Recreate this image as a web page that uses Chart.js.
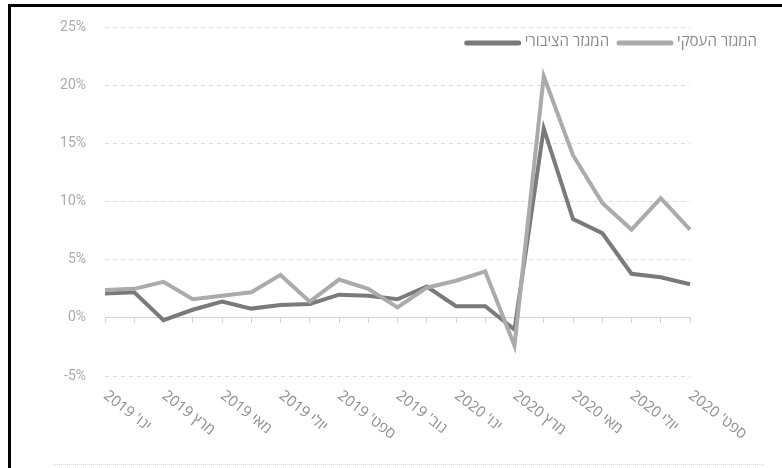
<!DOCTYPE html>
<html>
<head>
<meta charset="utf-8">
<script src="https://cdn.jsdelivr.net/npm/chart.js@4"></script>
<style>
  html, body { margin: 0; padding: 0; background: #fff; }
  #wrap { position: relative; width: 782px; height: 468px; overflow: hidden; }
  canvas { position: absolute; left: 0; top: 0; }
  #frame { position: absolute; left: 8px; top: 4px; width: 790px; height: 480px;
           border-top: 3px solid #000; border-left: 3px solid #000; }
  #rule { position: absolute; left: 53px; top: 464px; width: 711px; border-top: 1px dotted #d4d4d4; }
</style>
</head>
<body>
<div id="wrap">
  <canvas id="c" width="782" height="468"></canvas>
  <div id="frame"></div>
  <div id="rule"></div>
</div>
<script>
// Monthly categories, Jan 2019 – Sep 2020
const categories = [
  "ינו' 2019", "פבר' 2019", "מרץ 2019", "אפר' 2019", "מאי 2019", "יוני 2019",
  "יולי 2019", "אוג' 2019", "ספט' 2019", "אוק' 2019", "נוב' 2019", "דצמ' 2019",
  "ינו' 2020", "פבר' 2020", "מרץ 2020", "אפר' 2020", "מאי 2020", "יוני 2020",
  "יולי 2020", "אוג' 2020", "ספט' 2020"
];

// Series values (%)
const businessSector = [2.4, 2.5, 3.1, 1.6, 1.9, 2.2, 3.7, 1.4, 3.3, 2.5, 0.9, 2.6,
                        3.2, 4.0, -2.4, 20.8, 14.0, 9.9, 7.6, 10.3, 7.6];
const publicSector   = [2.1, 2.2, -0.2, 0.7, 1.4, 0.8, 1.1, 1.2, 2.0, 1.9, 1.6, 2.7,
                        1.0, 1.0, -1.0, 16.3, 8.5, 7.3, 3.8, 3.5, 2.9];

const seriesLabels = ["המגזר העסקי", "המגזר הציבורי"];
const seriesColors = ["#ababab", "#7a7a7a"];

// Y axis range and tick step
const yMin = -5, yMax = 25, yStep = 5;

const HEB_FONT = '"Open Sans", "DejaVu Sans", sans-serif';

// Rotated month labels hanging below the plot, every second month
const monthLabels = {
  id: 'monthLabels',
  afterDraw(chart) {
    const { ctx } = chart;
    const xs = chart.scales.x;
    ctx.save();
    ctx.font = '15px ' + HEB_FONT;
    ctx.fillStyle = '#8e8e8e';
    ctx.direction = 'rtl';
    ctx.textAlign = 'left';
    ctx.textBaseline = 'top';
    categories.forEach((c, i) => {
      if (i % 2) return;
      const x = xs.getPixelForValue(i);
      ctx.save();
      ctx.translate(x + 5, 388);
      ctx.rotate(38 * Math.PI / 180);
      ctx.fillText(c, 0, 0);
      ctx.restore();
    });
    ctx.restore();
  }
};

// Legend in the top right corner: text with a thick line swatch to its left
const lineLegend = {
  id: 'lineLegend',
  afterDraw(chart) {
    const { ctx } = chart;
    ctx.save();
    ctx.font = '15px ' + HEB_FONT;
    ctx.direction = 'rtl';
    ctx.textAlign = 'right';
    ctx.textBaseline = 'middle';
    let cur = 757;
    const y = 42;
    chart.data.datasets.forEach(ds => {
      const w = ctx.measureText(ds.label).width;
      ctx.fillStyle = '#8a8a8a';
      ctx.fillText(ds.label, cur, y);
      const r = cur - w - 6;
      ctx.beginPath();
      ctx.lineWidth = 5;
      ctx.lineCap = 'round';
      ctx.strokeStyle = ds.borderColor;
      ctx.moveTo(r - 52, y + 1);
      ctx.lineTo(r, y + 1);
      ctx.stroke();
      cur = r - 52 - 10;
    });
    ctx.restore();
  }
};

new Chart(document.getElementById('c'), {
  type: 'line',
  data: {
    labels: categories,
    datasets: [
      { label: seriesLabels[0], data: businessSector, borderColor: seriesColors[0] },
      { label: seriesLabels[1], data: publicSector, borderColor: seriesColors[1] }
    ]
  },
  options: {
    responsive: false,
    animation: false,
    layout: { padding: { left: 0, right: 92, top: 24, bottom: 92 } },
    elements: {
      point: { radius: 0 },
      line: { borderWidth: 4, tension: 0 }
    },
    plugins: { legend: { display: false }, tooltip: { enabled: false } },
    scales: {
      x: {
        type: 'category',
        position: { y: 0 },
        offset: false,
        ticks: { display: false },
        grid: { drawOnChartArea: false, drawTicks: true, tickLength: 5, color: '#d2d2d2' },
        border: { color: '#d2d2d2' }
      },
      y: {
        min: yMin, max: yMax,
        ticks: {
          stepSize: yStep,
          padding: 19,
          color: '#aaaaaa',
          font: { family: 'Roboto', size: 14 },
          callback: v => v + '%'
        },
        grid: {
          drawTicks: false,
          color: c => (c.tick && c.tick.value === 0) ? 'rgba(0,0,0,0)' : '#dadada'
        },
        border: { display: false, dash: [4, 4] },
        afterFit(s) { s.width = 105; }
      }
    }
  },
  plugins: [monthLabels, lineLegend]
});
</script>
</body>
</html>
